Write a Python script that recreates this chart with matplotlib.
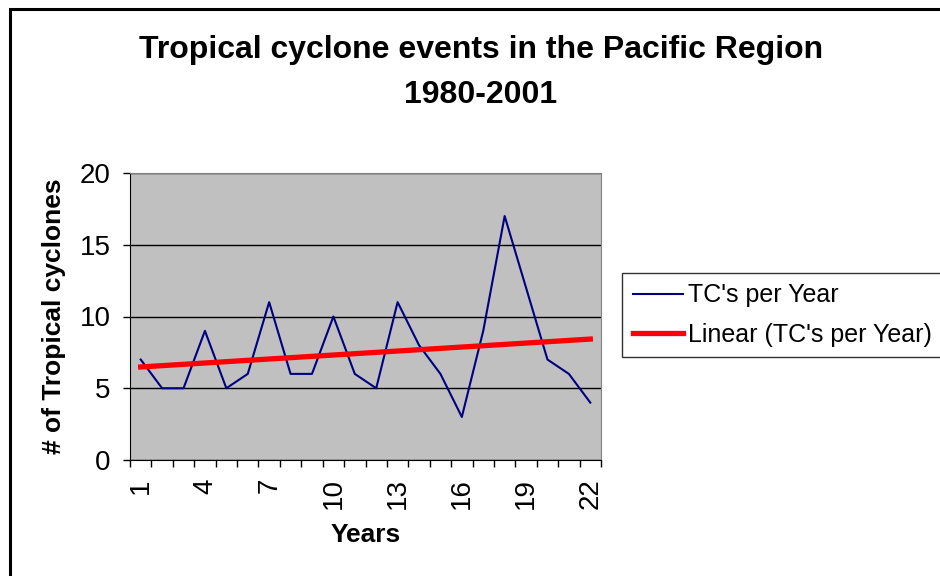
import matplotlib.pyplot as plt
import numpy as np
from matplotlib.patches import Rectangle

plt.rcParams['font.family'] = ['Liberation Sans', 'DejaVu Sans']

years = np.arange(1, 23)
tc_counts = [7, 5, 5, 9, 5, 6, 11, 6, 6, 10, 6, 5, 11, 8, 6, 3, 9, 17, 12, 7, 6, 4]
tick_years = [1, 4, 7, 10, 13, 16, 19, 22]
y_ticks = [0, 5, 10, 15, 20]

W, H = 940, 576
fig = plt.figure(figsize=(W / 100, H / 100), dpi=100)
ax = fig.add_axes([130 / W, 1 - 460 / H, 471 / W, 287 / H])

# outer chart border (runs off right/bottom edges)
fig.add_artist(Rectangle((10 / W, -0.1), 1.2, 1 - 9 / H + 0.1, transform=fig.transFigure,
                         fill=False, ec='black', lw=2.2))

ax.set_facecolor('#c0c0c0')
ax.plot(years, tc_counts, color='#000080', lw=1.5, label="TC's per Year", zorder=3)

# linear trend like Excel's trendline
slope, icpt = np.polyfit(years, tc_counts, 1)
ax.plot(years, slope * years + icpt, color='#ff0000', lw=3.8,
        label="Linear (TC's per Year)", zorder=4)

ax.set_xlim(0.5, 22.5)
ax.set_ylim(0, 20)
ax.set_yticks(y_ticks)
ax.yaxis.grid(True, color='black', lw=1)
ax.set_axisbelow(True)

# category ticks at boundaries, labels at centres
ax.set_xticks(np.arange(0.5, 23, 1), minor=True)
ax.set_xticks(tick_years)
ax.set_xticklabels([str(t) for t in tick_years], rotation=90, fontsize=20)
ax.tick_params(axis='x', which='major', length=0, pad=13)
ax.tick_params(axis='x', which='minor', length=5, width=1, direction='out')
ax.tick_params(axis='y', length=5, width=1, direction='out', labelsize=20, pad=9)

for side in ['top', 'right']:
    ax.spines[side].set_color('#808080')
for side in ['left', 'bottom']:
    ax.spines[side].set_color('black')

ax.set_xlabel('Years', fontsize=19, fontweight='bold', labelpad=10)
ax.set_ylabel('# of Tropical cyclones', fontsize=19, fontweight='bold', labelpad=10)

fig.text(481 / W, 1 - 50 / H, 'Tropical cyclone events in the Pacific Region',
         ha='center', va='center', fontsize=23, fontweight='bold')
fig.text(481 / W, 1 - 95 / H, '1980-2001', ha='center', va='center',
         fontsize=23, fontweight='bold')

leg = ax.legend(loc='upper left', bbox_to_anchor=(622 / W, 1 - 273 / H),
                bbox_transform=fig.transFigure, fontsize=18, frameon=True,
                fancybox=False, edgecolor='black', borderaxespad=0,
                handlelength=2.0, handletextpad=0.2, labelspacing=0.62,
                borderpad=0.42)
leg.get_frame().set_linewidth(1)

fig.savefig('out.png', dpi=100)
